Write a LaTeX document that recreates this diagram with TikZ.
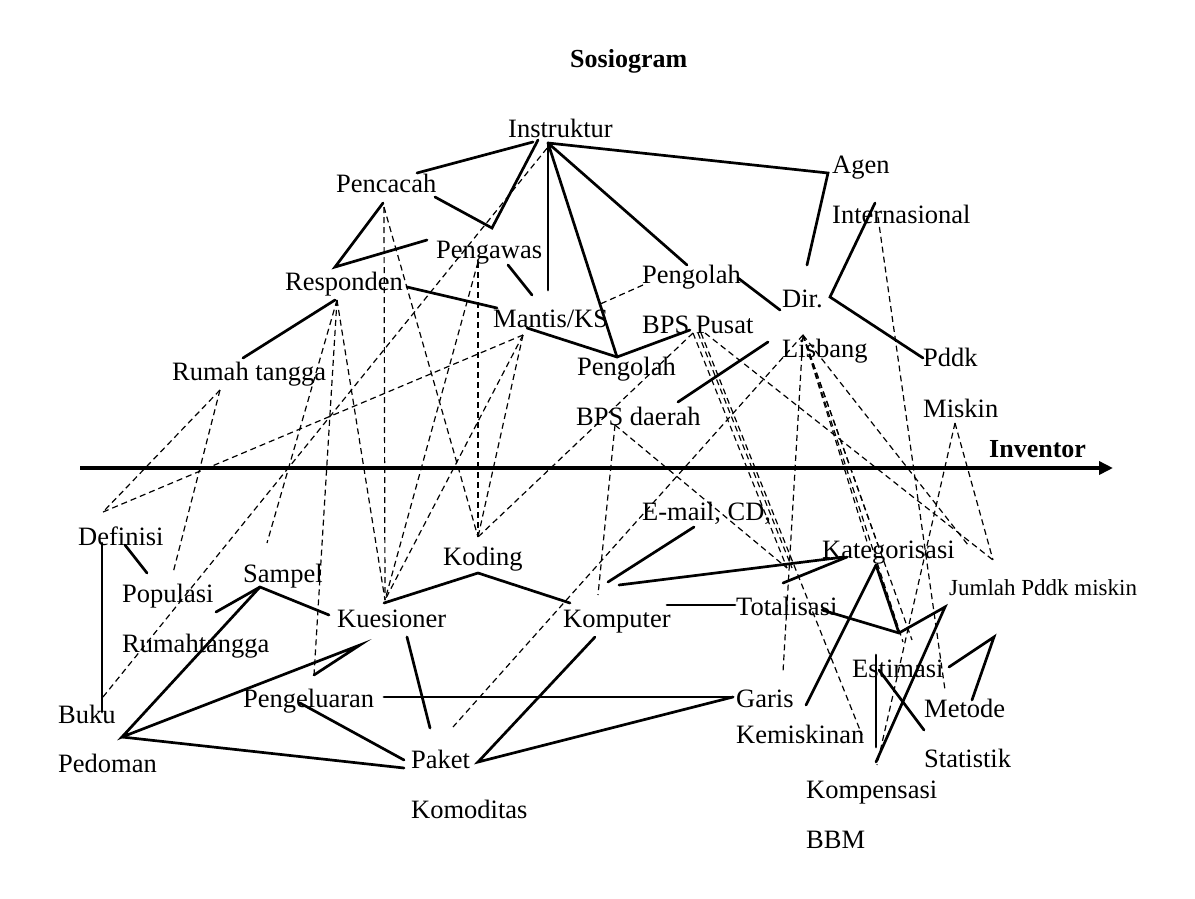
\documentclass[tikz,border=0pt]{standalone}
\usepackage{fontspec}
\setmainfont{Liberation Serif}
\usetikzlibrary{arrows.meta}
\begin{document}
\begin{tikzpicture}[x=1pt,y=-1pt,
  lbl/.style={anchor=base west,inner sep=0pt,font=\fontsize{26.5}{30}\selectfont},
  bold/.style={anchor=base west,inner sep=0pt,font=\fontsize{26}{30}\selectfont\bfseries},
  small/.style={anchor=base west,inner sep=0pt,font=\fontsize{23}{26}\selectfont},
  tie/.style={line width=2.7pt,line cap=round},
  weak/.style={line width=1.2pt,dash pattern=on 6pt off 4pt}]
\useasboundingbox (0,0) rectangle (1195,898);
\fill[white] (0,0) rectangle (1195,898);
% labels
\node[bold] (title) at (570,67) {Sosiogram};
\node[lbl] (instr) at (508,137) {Instruktur};
\node[lbl] (pencacah) at (336,192) {Pencacah};
\node[lbl] (agen) at (832,173) {Agen};
\node[lbl] (intl) at (832,223) {Internasional};
\node[lbl] (pengawas) at (436,258) {Pengawas};
\node[lbl] (resp) at (285,290) {Responden};
\node[lbl] (pgp) at (642,283) {Pengolah};
\node[lbl] (dir) at (782,307) {Dir.};
\node[lbl] (mantis) at (493,327) {Mantis/KS};
\node[lbl] (bpsp) at (642,333) {BPS Pusat};
\node[lbl] (lisbang) at (782,357) {Lisbang};
\node[lbl] (rt) at (172,380) {Rumah tangga};
\node[lbl] (pgd) at (577,375) {Pengolah};
\node[lbl] (pddk) at (923,366) {Pddk};
\node[lbl] (bpsd) at (576,425) {BPS daerah};
\node[lbl] (miskin) at (923,417) {Miskin};
\node[bold] (inventor) at (989,457) {Inventor};
\node[lbl] (definisi) at (78,545) {Definisi};
\node[lbl] (email) at (642,520) {E-mail, CD,};
\node[lbl] (koding) at (443,565) {Koding};
\node[lbl] (kat) at (822,558) {Kategorisasi};
\node[lbl] (sampel) at (243,582) {Sampel};
\node[lbl] (populasi) at (122,602) {Populasi};
\node[small] (jumlah) at (949,595) {Jumlah Pddk miskin};
\node[lbl] (kues) at (337,627) {Kuesioner};
\node[lbl] (komp) at (563,627) {Komputer};
\node[lbl] (total) at (736,615) {Totalisasi};
\node[lbl] (rumahtangga) at (122,652) {Rumahtangga};
\node[lbl] (estimasi) at (852,677) {Estimasi};
\node[lbl] (pengel) at (243,707) {Pengeluaran};
\node[lbl] (garis) at (736,707) {Garis};
\node[lbl] (metode) at (924,717) {Metode};
\node[lbl] (buku) at (58,723) {Buku};
\node[lbl] (kemiskinan) at (736,743) {Kemiskinan};
\node[lbl] (statistik) at (924,767) {Statistik};
\node[lbl] (pedoman) at (58,772) {Pedoman};
\node[lbl] (paket) at (411,768) {Paket};
\node[lbl] (kompensasi) at (806,798) {Kompensasi};
\node[lbl] (komoditas) at (411,818) {Komoditas};
\node[lbl] (bbm) at (806,848) {BBM};
% axis
\coordinate (ax0) at (80,468);
\coordinate (ax1) at (1113,468);
\draw[line width=4.5pt,-{Triangle[length=14pt,width=13pt]}] (ax0) -- (ax1);
% connection points
\coordinate (hub) at (548,143);
\coordinate (c1) at (417,173); \coordinate (c2) at (533,142);
\coordinate (c3) at (435,197); \coordinate (c4) at (492,228); \coordinate (c5) at (538,140);
\coordinate (agenP) at (828,173); \coordinate (dirT) at (807,265);
\coordinate (mantT) at (548,290);
\coordinate (pgpT) at (687,265); \coordinate (pgdT) at (617,357);
\coordinate (pgpR) at (738,278); \coordinate (dirL) at (780,310);
\coordinate (intlB) at (875,203); \coordinate (dirR) at (830,297); \coordinate (pddkL) at (923,358);
\coordinate (bpspL) at (690,330);
\coordinate (lisL) at (768,342); \coordinate (bpsdR) at (678,402);
\coordinate (mantB) at (527,328);
\coordinate (respR) at (407,287); \coordinate (mantL) at (497,308);
\coordinate (pengB) at (508,265); \coordinate (mantT2) at (532,295);
\coordinate (pencB) at (383,203); \coordinate (respT) at (335,267); \coordinate (pengL) at (427,240);
\coordinate (respB) at (335,300); \coordinate (rtT) at (243,358);
\coordinate (defB) at (102,543); \coordinate (bukuT) at (102,712);
\coordinate (defR) at (125,545); \coordinate (popT) at (147,573);
\coordinate (popR) at (216,612); \coordinate (samp) at (260,587); \coordinate (kuesL) at (329,615);
\coordinate (ped) at (122,737); \coordinate (kuesBL) at (360,645); \coordinate (pengelT) at (314,675);
\coordinate (paketL) at (404,768); \coordinate (pengelR) at (300,703); \coordinate (paketL2) at (404,760);
\coordinate (kuesB) at (407,637); \coordinate (paketT) at (430,728);
\coordinate (kuesTR) at (384,603); \coordinate (kodB) at (478,573); \coordinate (kompL) at (570,603);
\coordinate (kompB) at (595,637); \coordinate (paketR) at (478,762);
\coordinate (pengelH) at (384,697); \coordinate (garisL) at (733,697);
\coordinate (kompR) at (667,605); \coordinate (totL) at (735,605);
\coordinate (emailB) at (694,527); \coordinate (kompT) at (608,582);
\coordinate (kompT2) at (619,585); \coordinate (katL) at (844,557);
\coordinate (totTR) at (783,583); \coordinate (katL2) at (847,557);
\coordinate (totR) at (822,610); \coordinate (vB) at (899,633); \coordinate (katB) at (876,565);
\coordinate (jumL) at (945,607); \coordinate (garisR) at (806,705); \coordinate (kompsT) at (876,762);
\coordinate (estT) at (876,655); \coordinate (estB) at (876,747);
\coordinate (estX1) at (879,670); \coordinate (estX2) at (924,730);
\coordinate (met1) at (949,667); \coordinate (met2) at (994,637); \coordinate (met3) at (972,700);
% solid ties
\draw[tie] (c1) -- (c2);
\draw[tie] (c3) -- (c4) -- (c5);
\draw[tie] (hub) -- (agenP) -- (dirT);
\draw[tie] (hub) -- (mantT);
\draw[tie] (hub) -- (pgpT);
\draw[tie] (hub) -- (pgdT);
\draw[tie] (pgpR) -- (dirL);
\draw[tie] (intlB) -- (dirR) -- (pddkL);
\draw[tie] (mantB) -- (pgdT) -- (bpspL);
\draw[tie] (lisL) -- (bpsdR);
\draw[tie] (respR) -- (mantL);
\draw[tie] (pengB) -- (mantT2);
\draw[tie] (pencB) -- (respT) -- (pengL);
\draw[tie] (respB) -- (rtT);
\draw[tie] (defB) -- (bukuT);
\draw[tie] (defR) -- (popT);
\draw[tie] (popR) -- (samp) -- (kuesL);
\draw[tie] (samp) -- (ped) -- (kuesBL) -- (pengelT);
\draw[tie] (ped) -- (paketL);
\draw[tie] (pengelR) -- (paketL2);
\draw[tie] (kuesB) -- (paketT);
\draw[tie] (kuesTR) -- (kodB) -- (kompL);
\draw[tie] (kompB) -- (paketR) -- (garisL);
\draw[tie] (pengelH) -- (garisL);
\draw[tie] (kompR) -- (totL);
\draw[tie] (emailB) -- (kompT);
\draw[tie] (kompT2) -- (katL);
\draw[tie] (totTR) -- (katL2);
\draw[tie] (totR) -- (vB) -- (jumL) -- (kompsT);
\draw[tie] (katB) -- (vB);
\draw[tie] (katB) -- (garisR);
\draw[tie] (estT) -- (estB);
\draw[tie] (estX1) -- (estX2);
\draw[tie] (met1) -- (met2) -- (met3);
% dashed points
\coordinate (rtB) at (220,390);
\coordinate (defT) at (103,512);
\coordinate (popT2) at (173,573);
\coordinate (mantD) at (523,335);
\coordinate (bukuD) at (103,697);
\coordinate (instrD) at (548,147);
\coordinate (respD) at (337,300);
\coordinate (sampT) at (267,543);
\coordinate (kuesT) at (385,600);
\coordinate (pencD) at (384,207);
\coordinate (kodT) at (478,537);
\coordinate (pengD) at (478,262);
\coordinate (pgpD) at (643,285);
\coordinate (mantR) at (598,305);
\coordinate (bpspD) at (693,333);
\coordinate (bpsdD) at (615,425);
\coordinate (kompD) at (598,595);
\coordinate (totT) at (787,568);
\coordinate (lisD) at (803,335);
\coordinate (paketD) at (453,727);
\coordinate (kemD) at (862,735);
\coordinate (garisD) at (783,672);
\coordinate (katT1) at (868,545);
\coordinate (katT2) at (878,545);
\coordinate (estD1) at (903,642);
\coordinate (estD2) at (912,640);
\coordinate (jumD) at (993,560);
\coordinate (jumD2) at (968,545);
\coordinate (intlD) at (878,217);
\coordinate (metD) at (945,690);
\coordinate (miskD) at (955,423);
\coordinate (kompsD) at (877,765);
% dashed ties
\draw[weak] (rtB) -- (defT);
\draw[weak] (rtB) -- (popT2);
\draw[weak] (defT) -- (mantD);
\draw[weak] (bukuD) -- (instrD);
\draw[weak] (respD) -- (sampT);
\draw[weak] (respD) -- (pengelT);
\draw[weak] (respD) -- (kuesT);
\draw[weak] (pencD) -- (kuesT);
\draw[weak] (pencD) -- (kodT);
\draw[weak] (pengD) -- (kodT);
\draw[weak] (pengD) -- (kuesT);
\draw[weak] (mantD) -- (kodT);
\draw[weak] (mantD) -- (kuesT);
\draw[weak] (pgpD) -- (mantR);
\draw[weak] (bpspD) -- (kodT);
\draw[weak] (bpsdD) -- (kompD);
\draw[weak] (bpsdD) -- (totT);
\draw[weak] (lisD) -- (paketD);
\draw[weak] (bpspD) -- (totT);
\draw[weak] ([xshift=5pt]bpspD) -- ([xshift=5pt]totT);
\draw[weak] ([xshift=8pt]bpspD) -- (kemD);
\draw[weak] ([xshift=12pt]bpspD) -- (jumD);
\draw[weak] (lisD) -- (garisD);
\draw[weak] (lisD) -- (katT1);
\draw[weak] (lisD) -- (katT2);
\draw[weak] (lisD) -- (estD1);
\draw[weak] (lisD) -- (estD2);
\draw[weak] (lisD) -- (jumD2);
\draw[weak] (intlD) -- (metD);
\draw[weak] (miskD) -- (jumD);
\draw[weak] (miskD) -- (kompsD);
\end{tikzpicture}
\end{document}
